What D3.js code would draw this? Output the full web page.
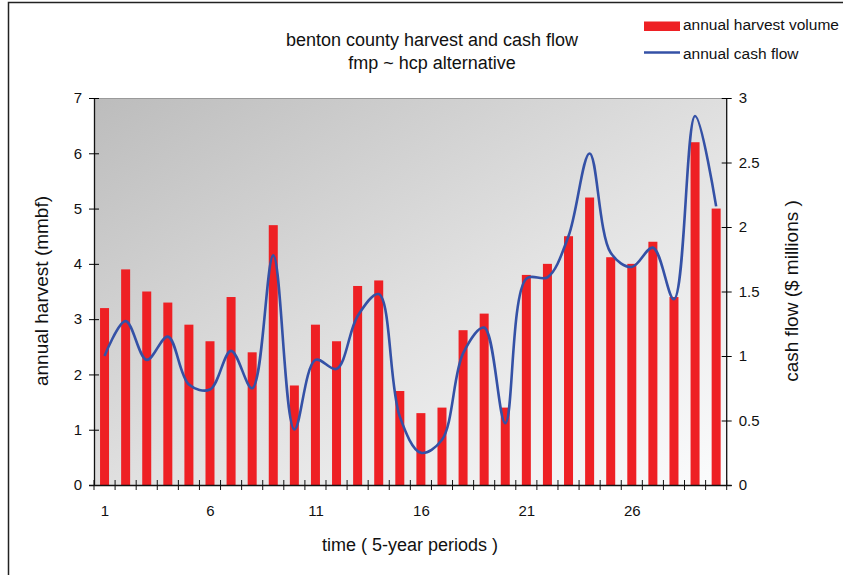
<!DOCTYPE html>
<html>
<head>
<meta charset="utf-8">
<script src="https://cdn.jsdelivr.net/npm/d3@7"></script>
<style>
  html, body { margin: 0; padding: 0; background: #fff; }
  svg { display: block; font-family: "Liberation Sans", Arial, sans-serif; }
</style>
</head>
<body>
<svg id="chart" width="843" height="575"></svg>
<script>
// ---- data ----
const periods = d3.range(1, 31);
const harvest = [3.2, 3.9, 3.5, 3.3, 2.9, 2.6, 3.4, 2.4, 4.7, 1.8,
                 2.9, 2.6, 3.6, 3.7, 1.7, 1.3, 1.4, 2.8, 3.1, 1.4,
                 3.8, 4.0, 4.5, 5.2, 4.12, 4.0, 4.4, 3.4, 6.2, 5.0];
const cashFlow = [1.0, 1.27, 0.97, 1.15, 0.78, 0.74, 1.04, 0.75, 1.78, 0.43,
                  0.97, 0.9, 1.31, 1.48, 0.53, 0.25, 0.35, 1.02, 1.22, 0.48,
                  1.6, 1.61, 1.93, 2.57, 1.8, 1.69, 1.84, 1.44, 2.86, 2.16];
const xTickLabels = [1, 6, 11, 16, 21, 26];
const leftTicks = [0, 1, 2, 3, 4, 5, 6, 7];
const rightTicks = [0, 0.5, 1, 1.5, 2, 2.5, 3];
const titleLines = ["benton county harvest and cash flow", "fmp ~ hcp alternative"];
const legendLabels = ["annual harvest volume", "annual cash flow"];
const axisTitles = { x: "time ( 5-year periods )", yLeft: "annual harvest (mmbf)", yRight: "cash flow  ($ millions )" };

// ---- layout ----
const L = 94, R = 726.7, T = 98, B = 485;
const svg = d3.select("#chart");

const x = d3.scaleBand().domain(periods).range([L, R]).paddingInner(0.573).paddingOuter(0.2865);
const xc = d => x(d) + x.bandwidth() / 2;
const yL = d3.scaleLinear().domain([0, 7]).range([B, T]);
const yR = d3.scaleLinear().domain([0, 3]).range([B, T]);

// outer frame
svg.append("path").attr("d", `M8.5,575 V2.5 H843`).attr("fill", "none")
  .attr("stroke", "#222").attr("stroke-width", 1.5);

// plot background gradient
const defs = svg.append("defs");
const g = defs.append("linearGradient").attr("id", "bg")
  .attr("x1", 0).attr("y1", 0).attr("x2", 1).attr("y2", 1);
g.append("stop").attr("offset", "0%").attr("stop-color", "#bcbcbc");
g.append("stop").attr("offset", "55%").attr("stop-color", "#e2e2e2");
g.append("stop").attr("offset", "100%").attr("stop-color", "#fbfcfd");
svg.append("rect").attr("x", L).attr("y", T).attr("width", R - L).attr("height", B - T)
  .attr("fill", "url(#bg)");
svg.append("line").attr("x1", L).attr("x2", R).attr("y1", T + 0.5).attr("y2", T + 0.5)
  .attr("stroke", "#9a9a9a").attr("stroke-width", 1.2);

// bars
svg.append("g").selectAll("rect").data(periods).join("rect")
  .attr("x", d => x(d)).attr("width", x.bandwidth())
  .attr("y", (d, i) => yL(harvest[i])).attr("height", (d, i) => B - yL(harvest[i]))
  .attr("fill", "#ee2024");

// cash flow line
const line = d3.line().x(d => xc(d)).y((d, i) => yR(cashFlow[i])).curve(d3.curveCatmullRom.alpha(0.5));
svg.append("path").datum(periods).attr("d", line).attr("fill", "none")
  .attr("stroke", "#3451a6").attr("stroke-width", 2.6).attr("stroke-linejoin", "round");

const tickFont = 15;
// left axis
const gl = svg.append("g").attr("transform", `translate(${L},0)`)
  .call(d3.axisLeft(yL).tickValues(leftTicks).tickSize(5).tickPadding(7).tickFormat(d3.format("d")));
gl.selectAll(".tick line").attr("x1", -5).attr("x2", 5);
gl.select(".domain").attr("d", `M0.5,${T}V${B}`).attr("stroke", "#111").attr("stroke-width", 1.3);
gl.selectAll("text").attr("font-size", tickFont).attr("fill", "#111").attr("font-family", "Liberation Sans, Arial, sans-serif");

// right axis
const gr = svg.append("g").attr("transform", `translate(${R},0)`)
  .call(d3.axisRight(yR).tickValues(rightTicks).tickSize(5).tickPadding(7).tickFormat(d => String(d)));
gr.selectAll(".tick line").attr("x1", -5).attr("x2", 5);
gr.select(".domain").attr("d", `M0,${T}V${B}`).attr("stroke", "#111").attr("stroke-width", 1.3);
gr.selectAll("text").attr("font-size", tickFont).attr("fill", "#111").attr("font-family", "Liberation Sans, Arial, sans-serif");

// bottom axis
const xLabelScale = d3.scalePoint().domain(periods).range([xc(1), xc(30)]);
const gb = svg.append("g").attr("transform", `translate(0,${B})`)
  .call(d3.axisBottom(xLabelScale).tickValues(xTickLabels).tickSize(0).tickPadding(20));
gb.select(".domain").attr("d", `M${L - 5},0.5H${R + 5}`).attr("stroke", "#111").attr("stroke-width", 1.3);
gb.selectAll("text").attr("font-size", tickFont).attr("fill", "#111").attr("font-family", "Liberation Sans, Arial, sans-serif");
// category boundary ticks crossing the axis
gb.append("g").selectAll("line").data(d3.range(0, periods.length + 1)).join("line")
  .attr("x1", i => L + i * x.step()).attr("x2", i => L + i * x.step())
  .attr("y1", -5).attr("y2", 5).attr("stroke", "#111").attr("stroke-width", 1);

// titles
const title = svg.append("g").attr("font-size", 18).attr("fill", "#111").attr("text-anchor", "middle");
titleLines.forEach((t, i) => title.append("text").attr("x", 432).attr("y", 46 + i * 23).text(t));

svg.append("text").attr("x", 410).attr("y", 551).attr("text-anchor", "middle")
  .attr("font-size", 18).attr("fill", "#111").text(axisTitles.x);
svg.append("text").attr("transform", `translate(48,291) rotate(-90)`).attr("text-anchor", "middle")
  .attr("font-size", 19).attr("fill", "#111").text(axisTitles.yLeft);
svg.append("text").attr("transform", `translate(798,291) rotate(-90)`).attr("text-anchor", "middle")
  .attr("font-size", 19).attr("fill", "#111").text(axisTitles.yRight);

// legend
const lg = svg.append("g").attr("font-size", 15.5).attr("fill", "#111");
lg.append("rect").attr("x", 644).attr("y", 21.5).attr("width", 36).attr("height", 9.5).attr("fill", "#ee2024");
lg.append("text").attr("x", 683).attr("y", 30).text(legendLabels[0]);
lg.append("line").attr("x1", 644).attr("x2", 680).attr("y1", 52.5).attr("y2", 52.5)
  .attr("stroke", "#3451a6").attr("stroke-width", 2.6);
lg.append("text").attr("x", 683).attr("y", 58.5).text(legendLabels[1]);
</script>
</body>
</html>
